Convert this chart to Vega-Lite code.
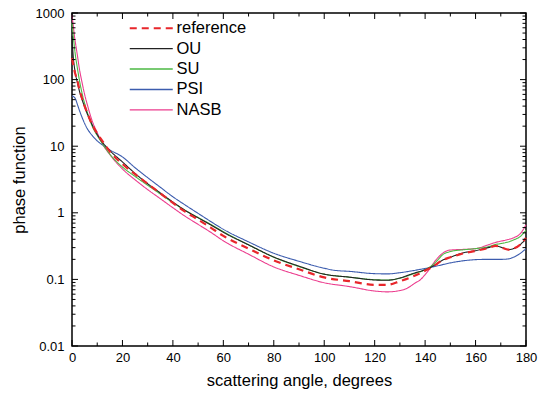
{
  "$schema": "https://vega.github.io/schema/vega-lite/v6.json",
  "width": 454,
  "height": 333,
  "autosize": {"type": "none"},
  "padding": {"left": 72, "top": 13, "right": 12, "bottom": 49},
  "background": "white",
  "config": {
    "font": "Liberation Sans",
    "view": {"stroke": "#000", "strokeWidth": 1.5},
    "axis": {
      "labelFontSize": 13,
      "titleFontSize": 16.5,
      "titleFontWeight": "normal",
      "labelColor": "#000",
      "titleColor": "#000",
      "domain": false,
      "grid": false,
      "ticks": false,
      "labelOverlap": false,
      "labelFlush": false
    }
  },
  "datasets": {
    "xmajor": [{"angle": 0}, {"angle": 20}, {"angle": 40}, {"angle": 60}, {"angle": 80}, {"angle": 100}, {"angle": 120}, {"angle": 140}, {"angle": 160}, {"angle": 180}],
    "xminor": [{"angle": 10}, {"angle": 30}, {"angle": 50}, {"angle": 70}, {"angle": 90}, {"angle": 110}, {"angle": 130}, {"angle": 150}, {"angle": 170}],
    "ymajor": [{"value": 0.01}, {"value": 0.1}, {"value": 1}, {"value": 10}, {"value": 100}, {"value": 1000}],
    "yminor": [
      {"value": 0.02}, {"value": 0.03}, {"value": 0.04}, {"value": 0.05}, {"value": 0.06}, {"value": 0.07}, {"value": 0.08}, {"value": 0.09},
      {"value": 0.2}, {"value": 0.3}, {"value": 0.4}, {"value": 0.5}, {"value": 0.6}, {"value": 0.7}, {"value": 0.8}, {"value": 0.9},
      {"value": 2}, {"value": 3}, {"value": 4}, {"value": 5}, {"value": 6}, {"value": 7}, {"value": 8}, {"value": 9},
      {"value": 20}, {"value": 30}, {"value": 40}, {"value": 50}, {"value": 60}, {"value": 70}, {"value": 80}, {"value": 90},
      {"value": 200}, {"value": 300}, {"value": 400}, {"value": 500}, {"value": 600}, {"value": 700}, {"value": 800}, {"value": 900}
    ],
    "curves": [
      {"series": "NASB", "angle": 0, "value": 930},
      {"series": "NASB", "angle": 0.5, "value": 650},
      {"series": "NASB", "angle": 1, "value": 440},
      {"series": "NASB", "angle": 1.5, "value": 330},
      {"series": "NASB", "angle": 2, "value": 250},
      {"series": "NASB", "angle": 3, "value": 140},
      {"series": "NASB", "angle": 4, "value": 90},
      {"series": "NASB", "angle": 5, "value": 60},
      {"series": "NASB", "angle": 6, "value": 43},
      {"series": "NASB", "angle": 8, "value": 24},
      {"series": "NASB", "angle": 10, "value": 16},
      {"series": "NASB", "angle": 12, "value": 11},
      {"series": "NASB", "angle": 15, "value": 7.5},
      {"series": "NASB", "angle": 20, "value": 4.55},
      {"series": "NASB", "angle": 25, "value": 3.13},
      {"series": "NASB", "angle": 30, "value": 2.23},
      {"series": "NASB", "angle": 35, "value": 1.63},
      {"series": "NASB", "angle": 40, "value": 1.19},
      {"series": "NASB", "angle": 45, "value": 0.88},
      {"series": "NASB", "angle": 50, "value": 0.67},
      {"series": "NASB", "angle": 55, "value": 0.51},
      {"series": "NASB", "angle": 60, "value": 0.38},
      {"series": "NASB", "angle": 70, "value": 0.239},
      {"series": "NASB", "angle": 80, "value": 0.154},
      {"series": "NASB", "angle": 90, "value": 0.115},
      {"series": "NASB", "angle": 100, "value": 0.089},
      {"series": "NASB", "angle": 110, "value": 0.078},
      {"series": "NASB", "angle": 120, "value": 0.067},
      {"series": "NASB", "angle": 125, "value": 0.065},
      {"series": "NASB", "angle": 130, "value": 0.068},
      {"series": "NASB", "angle": 133, "value": 0.074},
      {"series": "NASB", "angle": 136, "value": 0.088},
      {"series": "NASB", "angle": 138, "value": 0.098},
      {"series": "NASB", "angle": 140, "value": 0.118},
      {"series": "NASB", "angle": 142, "value": 0.147},
      {"series": "NASB", "angle": 144, "value": 0.19},
      {"series": "NASB", "angle": 146, "value": 0.23},
      {"series": "NASB", "angle": 148, "value": 0.262},
      {"series": "NASB", "angle": 150, "value": 0.276},
      {"series": "NASB", "angle": 155, "value": 0.282},
      {"series": "NASB", "angle": 160, "value": 0.29},
      {"series": "NASB", "angle": 165, "value": 0.33},
      {"series": "NASB", "angle": 168, "value": 0.36},
      {"series": "NASB", "angle": 172, "value": 0.39},
      {"series": "NASB", "angle": 175, "value": 0.42},
      {"series": "NASB", "angle": 178, "value": 0.5},
      {"series": "NASB", "angle": 180, "value": 0.66},

      {"series": "PSI", "angle": 0, "value": 57},
      {"series": "PSI", "angle": 0.5, "value": 56},
      {"series": "PSI", "angle": 1, "value": 54},
      {"series": "PSI", "angle": 1.5, "value": 50},
      {"series": "PSI", "angle": 2, "value": 44},
      {"series": "PSI", "angle": 3, "value": 34},
      {"series": "PSI", "angle": 4, "value": 27},
      {"series": "PSI", "angle": 5, "value": 22},
      {"series": "PSI", "angle": 6, "value": 18.5},
      {"series": "PSI", "angle": 8, "value": 14.5},
      {"series": "PSI", "angle": 10, "value": 12},
      {"series": "PSI", "angle": 12, "value": 10.5},
      {"series": "PSI", "angle": 15, "value": 8.8},
      {"series": "PSI", "angle": 20, "value": 6.9},
      {"series": "PSI", "angle": 25, "value": 4.75},
      {"series": "PSI", "angle": 30, "value": 3.37},
      {"series": "PSI", "angle": 35, "value": 2.42},
      {"series": "PSI", "angle": 40, "value": 1.74},
      {"series": "PSI", "angle": 45, "value": 1.3},
      {"series": "PSI", "angle": 50, "value": 0.98},
      {"series": "PSI", "angle": 55, "value": 0.74},
      {"series": "PSI", "angle": 60, "value": 0.565},
      {"series": "PSI", "angle": 70, "value": 0.366},
      {"series": "PSI", "angle": 80, "value": 0.247},
      {"series": "PSI", "angle": 90, "value": 0.187},
      {"series": "PSI", "angle": 100, "value": 0.147},
      {"series": "PSI", "angle": 104, "value": 0.137},
      {"series": "PSI", "angle": 110, "value": 0.132},
      {"series": "PSI", "angle": 120, "value": 0.122},
      {"series": "PSI", "angle": 125, "value": 0.121},
      {"series": "PSI", "angle": 130, "value": 0.126},
      {"series": "PSI", "angle": 135, "value": 0.135},
      {"series": "PSI", "angle": 140, "value": 0.146},
      {"series": "PSI", "angle": 145, "value": 0.16},
      {"series": "PSI", "angle": 150, "value": 0.177},
      {"series": "PSI", "angle": 155, "value": 0.19},
      {"series": "PSI", "angle": 160, "value": 0.198},
      {"series": "PSI", "angle": 165, "value": 0.2},
      {"series": "PSI", "angle": 170, "value": 0.2},
      {"series": "PSI", "angle": 173, "value": 0.203},
      {"series": "PSI", "angle": 175, "value": 0.215},
      {"series": "PSI", "angle": 178, "value": 0.25},
      {"series": "PSI", "angle": 180, "value": 0.29},

      {"series": "SU", "angle": 0, "value": 700},
      {"series": "SU", "angle": 0.5, "value": 450},
      {"series": "SU", "angle": 1, "value": 300},
      {"series": "SU", "angle": 1.5, "value": 210},
      {"series": "SU", "angle": 2, "value": 160},
      {"series": "SU", "angle": 3, "value": 95},
      {"series": "SU", "angle": 4, "value": 62},
      {"series": "SU", "angle": 5, "value": 44},
      {"series": "SU", "angle": 6, "value": 33},
      {"series": "SU", "angle": 8, "value": 20},
      {"series": "SU", "angle": 10, "value": 14.5},
      {"series": "SU", "angle": 12, "value": 11},
      {"series": "SU", "angle": 15, "value": 7.6},
      {"series": "SU", "angle": 20, "value": 4.87},
      {"series": "SU", "angle": 25, "value": 3.52},
      {"series": "SU", "angle": 30, "value": 2.59},
      {"series": "SU", "angle": 35, "value": 1.92},
      {"series": "SU", "angle": 40, "value": 1.42},
      {"series": "SU", "angle": 45, "value": 1.08},
      {"series": "SU", "angle": 50, "value": 0.85},
      {"series": "SU", "angle": 55, "value": 0.67},
      {"series": "SU", "angle": 60, "value": 0.52},
      {"series": "SU", "angle": 70, "value": 0.33},
      {"series": "SU", "angle": 80, "value": 0.215},
      {"series": "SU", "angle": 90, "value": 0.156},
      {"series": "SU", "angle": 100, "value": 0.12},
      {"series": "SU", "angle": 110, "value": 0.108},
      {"series": "SU", "angle": 120, "value": 0.099},
      {"series": "SU", "angle": 125, "value": 0.098},
      {"series": "SU", "angle": 130, "value": 0.104},
      {"series": "SU", "angle": 135, "value": 0.12},
      {"series": "SU", "angle": 140, "value": 0.14},
      {"series": "SU", "angle": 143, "value": 0.165},
      {"series": "SU", "angle": 145, "value": 0.195},
      {"series": "SU", "angle": 147, "value": 0.235},
      {"series": "SU", "angle": 150, "value": 0.262},
      {"series": "SU", "angle": 155, "value": 0.278},
      {"series": "SU", "angle": 160, "value": 0.29},
      {"series": "SU", "angle": 165, "value": 0.31},
      {"series": "SU", "angle": 168, "value": 0.335},
      {"series": "SU", "angle": 170, "value": 0.345},
      {"series": "SU", "angle": 173, "value": 0.365},
      {"series": "SU", "angle": 175, "value": 0.39},
      {"series": "SU", "angle": 178, "value": 0.45},
      {"series": "SU", "angle": 180, "value": 0.55},

      {"series": "OU", "angle": 0, "value": 450},
      {"series": "OU", "angle": 0.5, "value": 220},
      {"series": "OU", "angle": 1, "value": 150},
      {"series": "OU", "angle": 1.5, "value": 115},
      {"series": "OU", "angle": 2, "value": 95},
      {"series": "OU", "angle": 3, "value": 66},
      {"series": "OU", "angle": 4, "value": 50},
      {"series": "OU", "angle": 5, "value": 39},
      {"series": "OU", "angle": 6, "value": 31},
      {"series": "OU", "angle": 8, "value": 21},
      {"series": "OU", "angle": 10, "value": 15},
      {"series": "OU", "angle": 12, "value": 11.5},
      {"series": "OU", "angle": 15, "value": 8.6},
      {"series": "OU", "angle": 20, "value": 5.8},
      {"series": "OU", "angle": 25, "value": 3.9},
      {"series": "OU", "angle": 30, "value": 2.73},
      {"series": "OU", "angle": 35, "value": 1.99},
      {"series": "OU", "angle": 40, "value": 1.45},
      {"series": "OU", "angle": 45, "value": 1.08},
      {"series": "OU", "angle": 50, "value": 0.84},
      {"series": "OU", "angle": 55, "value": 0.66},
      {"series": "OU", "angle": 60, "value": 0.51},
      {"series": "OU", "angle": 70, "value": 0.33},
      {"series": "OU", "angle": 80, "value": 0.217},
      {"series": "OU", "angle": 90, "value": 0.158},
      {"series": "OU", "angle": 100, "value": 0.12},
      {"series": "OU", "angle": 110, "value": 0.108},
      {"series": "OU", "angle": 120, "value": 0.098},
      {"series": "OU", "angle": 125, "value": 0.097},
      {"series": "OU", "angle": 130, "value": 0.105},
      {"series": "OU", "angle": 135, "value": 0.122},
      {"series": "OU", "angle": 140, "value": 0.14},
      {"series": "OU", "angle": 143, "value": 0.158},
      {"series": "OU", "angle": 145, "value": 0.175},
      {"series": "OU", "angle": 147, "value": 0.195},
      {"series": "OU", "angle": 150, "value": 0.215},
      {"series": "OU", "angle": 155, "value": 0.25},
      {"series": "OU", "angle": 160, "value": 0.27},
      {"series": "OU", "angle": 165, "value": 0.3},
      {"series": "OU", "angle": 168, "value": 0.318},
      {"series": "OU", "angle": 170, "value": 0.305},
      {"series": "OU", "angle": 173, "value": 0.28},
      {"series": "OU", "angle": 175, "value": 0.29},
      {"series": "OU", "angle": 178, "value": 0.34},
      {"series": "OU", "angle": 180, "value": 0.41},

      {"series": "reference", "angle": 0, "value": 210},
      {"series": "reference", "angle": 0.5, "value": 165},
      {"series": "reference", "angle": 1, "value": 135},
      {"series": "reference", "angle": 1.5, "value": 115},
      {"series": "reference", "angle": 2, "value": 100},
      {"series": "reference", "angle": 3, "value": 70},
      {"series": "reference", "angle": 4, "value": 52},
      {"series": "reference", "angle": 5, "value": 40},
      {"series": "reference", "angle": 6, "value": 32},
      {"series": "reference", "angle": 8, "value": 21},
      {"series": "reference", "angle": 10, "value": 15.5},
      {"series": "reference", "angle": 12, "value": 12},
      {"series": "reference", "angle": 15, "value": 8.3},
      {"series": "reference", "angle": 20, "value": 5.4},
      {"series": "reference", "angle": 25, "value": 3.8},
      {"series": "reference", "angle": 30, "value": 2.72},
      {"series": "reference", "angle": 35, "value": 1.96},
      {"series": "reference", "angle": 40, "value": 1.41},
      {"series": "reference", "angle": 45, "value": 1.03},
      {"series": "reference", "angle": 50, "value": 0.79},
      {"series": "reference", "angle": 55, "value": 0.6},
      {"series": "reference", "angle": 60, "value": 0.45},
      {"series": "reference", "angle": 70, "value": 0.29},
      {"series": "reference", "angle": 80, "value": 0.193},
      {"series": "reference", "angle": 90, "value": 0.142},
      {"series": "reference", "angle": 100, "value": 0.107},
      {"series": "reference", "angle": 110, "value": 0.094},
      {"series": "reference", "angle": 120, "value": 0.083},
      {"series": "reference", "angle": 125, "value": 0.083},
      {"series": "reference", "angle": 130, "value": 0.094},
      {"series": "reference", "angle": 135, "value": 0.11},
      {"series": "reference", "angle": 140, "value": 0.135},
      {"series": "reference", "angle": 143, "value": 0.155},
      {"series": "reference", "angle": 145, "value": 0.175},
      {"series": "reference", "angle": 147, "value": 0.195},
      {"series": "reference", "angle": 150, "value": 0.215},
      {"series": "reference", "angle": 155, "value": 0.245},
      {"series": "reference", "angle": 160, "value": 0.268},
      {"series": "reference", "angle": 165, "value": 0.295},
      {"series": "reference", "angle": 168, "value": 0.318},
      {"series": "reference", "angle": 170, "value": 0.305},
      {"series": "reference", "angle": 173, "value": 0.28},
      {"series": "reference", "angle": 175, "value": 0.29},
      {"series": "reference", "angle": 178, "value": 0.34},
      {"series": "reference", "angle": 180, "value": 0.42}
    ]
  },
  "layer": [
    {
      "data": {"name": "curves"},
      "mark": {"type": "line", "interpolate": "monotone"},
      "encoding": {
        "x": {
          "field": "angle", "type": "quantitative",
          "scale": {"domain": [0, 180], "nice": false},
          "axis": {
            "orient": "bottom", "title": "scattering angle, degrees",
            "values": [0,20,40,60,80,100,120,140,160,180],
            "labelPadding": 5,
            "titlePadding": 8
          }
        },
        "y": {
          "field": "value", "type": "quantitative",
          "scale": {"type": "log", "domain": [0.01, 1000], "nice": false},
          "axis": {
            "orient": "left", "title": "phase function",
            "values": [0.01,0.1,1,10,100,1000],
            "format": "~g",
            "labelPadding": 8,
            "titlePadding": 8
          }
        },
        "color": {
          "field": "series", "type": "nominal",
          "scale": {"domain": ["reference", "OU", "SU", "PSI", "NASB"], "range": ["#e8262b", "#222222", "#4cb944", "#3c5cae", "#ec3d8e"]},
          "legend": {
            "orient": "none", "legendX": 71, "legendY": 7, "title": null,
            "symbolType": "stroke", "symbolSize": 1849,
            "labelFontSize": 16.5, "labelColor": "#000", "labelOffset": 17,
            "rowPadding": 3.4,
            "encode": {"symbols": {"update": {"strokeWidth": {"signal": "datum.value === 'reference' ? 2.2 : 1.4"}}}}
          }
        },
        "strokeDash": {
          "field": "series", "type": "nominal",
          "scale": {"domain": ["reference", "OU", "SU", "PSI", "NASB"], "range": [[7, 5], [1, 0], [1, 0], [1, 0], [1, 0]]}
        },
        "strokeWidth": {
          "condition": {"test": "datum.series === 'reference'", "value": 2.2},
          "value": 1.1
        }
      }
    },
    {
      "data": {"name": "xmajor"},
      "mark": {"type": "tick", "orient": "vertical", "size": 6, "thickness": 1, "color": "#000", "opacity": 1, "yOffset": -3},
      "encoding": {"x": {"field": "angle", "type": "quantitative", "axis": null}, "y": {"datum": 0.01, "type": "quantitative", "axis": null}}
    },
    {
      "data": {"name": "xmajor"},
      "mark": {"type": "tick", "orient": "vertical", "size": 6, "thickness": 1, "color": "#000", "opacity": 1, "yOffset": 3},
      "encoding": {"x": {"field": "angle", "type": "quantitative", "axis": null}, "y": {"datum": 1000, "type": "quantitative", "axis": null}}
    },
    {
      "data": {"name": "xminor"},
      "mark": {"type": "tick", "orient": "vertical", "size": 3.5, "thickness": 1, "color": "#000", "opacity": 1, "yOffset": -1.75},
      "encoding": {"x": {"field": "angle", "type": "quantitative", "axis": null}, "y": {"datum": 0.01, "type": "quantitative", "axis": null}}
    },
    {
      "data": {"name": "xminor"},
      "mark": {"type": "tick", "orient": "vertical", "size": 3.5, "thickness": 1, "color": "#000", "opacity": 1, "yOffset": 1.75},
      "encoding": {"x": {"field": "angle", "type": "quantitative", "axis": null}, "y": {"datum": 1000, "type": "quantitative", "axis": null}}
    },
    {
      "data": {"name": "ymajor"},
      "mark": {"type": "tick", "orient": "horizontal", "size": 6, "thickness": 1, "color": "#000", "opacity": 1, "xOffset": 3},
      "encoding": {"y": {"field": "value", "type": "quantitative", "axis": null}, "x": {"datum": 0, "type": "quantitative", "axis": null}}
    },
    {
      "data": {"name": "ymajor"},
      "mark": {"type": "tick", "orient": "horizontal", "size": 6, "thickness": 1, "color": "#000", "opacity": 1, "xOffset": -3},
      "encoding": {"y": {"field": "value", "type": "quantitative", "axis": null}, "x": {"datum": 180, "type": "quantitative", "axis": null}}
    },
    {
      "data": {"name": "yminor"},
      "mark": {"type": "tick", "orient": "horizontal", "size": 3.5, "thickness": 1, "color": "#000", "opacity": 1, "xOffset": 1.75},
      "encoding": {"y": {"field": "value", "type": "quantitative", "axis": null}, "x": {"datum": 0, "type": "quantitative", "axis": null}}
    },
    {
      "data": {"name": "yminor"},
      "mark": {"type": "tick", "orient": "horizontal", "size": 3.5, "thickness": 1, "color": "#000", "opacity": 1, "xOffset": -1.75},
      "encoding": {"y": {"field": "value", "type": "quantitative", "axis": null}, "x": {"datum": 180, "type": "quantitative", "axis": null}}
    }
  ],
  "resolve": {"axis": {"x": "independent", "y": "independent"}}
}
